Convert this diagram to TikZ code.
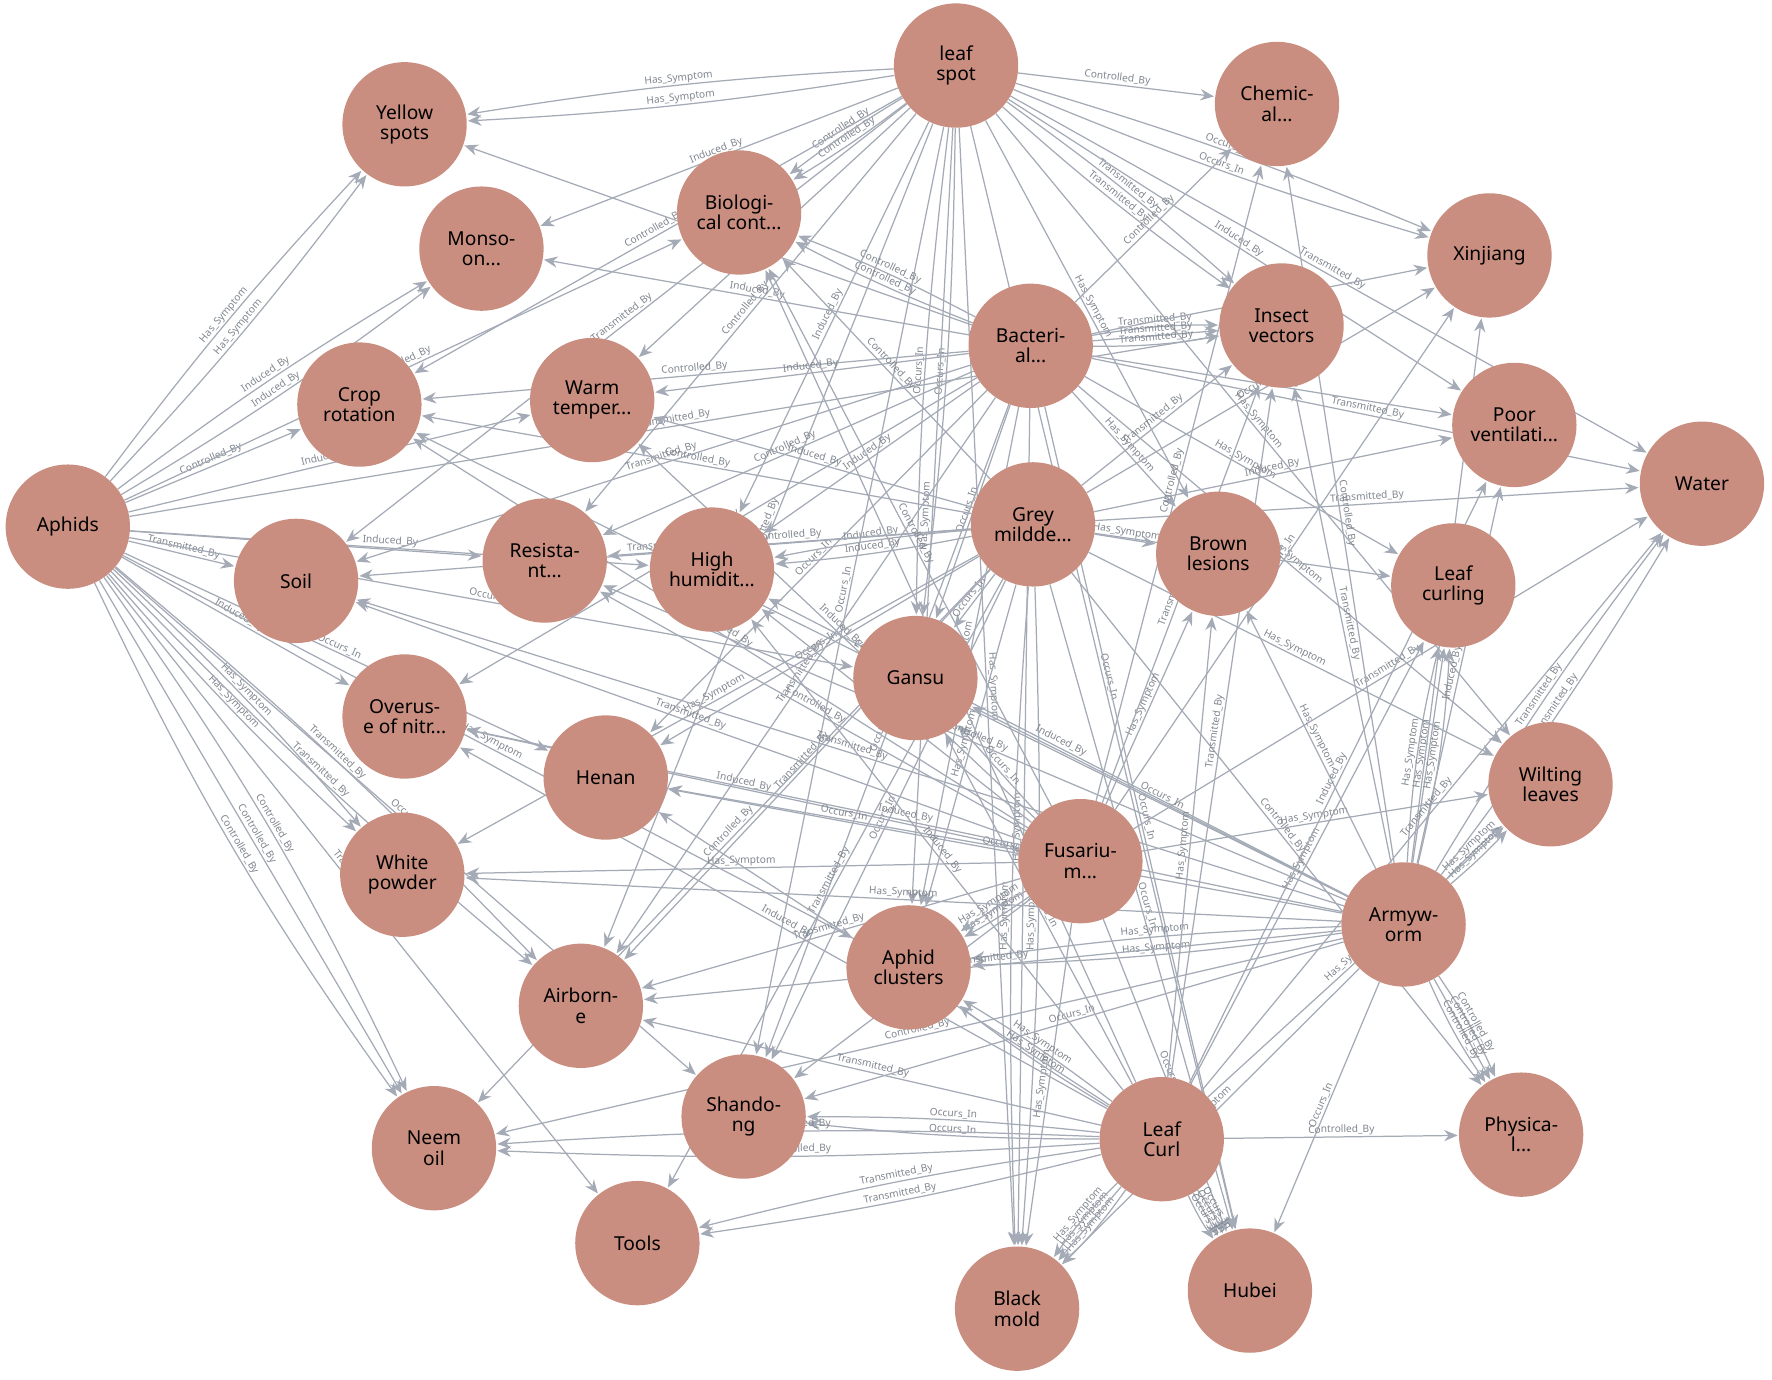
\documentclass[tikz,border=0pt]{standalone}
\usepackage{fontspec}
\setmainfont{Noto Sans}
\usetikzlibrary{arrows.meta,backgrounds}
\definecolor{nodecol}{HTML}{C98E80}
\definecolor{edgecol}{HTML}{A4ABB6}
\definecolor{lblcol}{HTML}{80868E}
\newcommand\lHS{Has\_Symptom}
\newcommand\lCB{Controlled\_By}
\newcommand\lIB{Induced\_By}
\newcommand\lTB{Transmitted\_By}
\newcommand\lOI{Occurs\_In}
\newcommand\kgE[3]{\draw[edge] (#1) to node[lbl]{#3} (#2);}
\newcommand\kgEE[3]{\draw[edge] (#1) to[bend left=3] node[lbl]{#3} (#2);\draw[edge] (#1) to[bend right=3] node[lbl]{#3} (#2);}
\newcommand\kgEEE[3]{\draw[edge] (#1) to[bend left=5] node[lbl]{#3} (#2);\draw[edge] (#1) to node[lbl]{#3} (#2);\draw[edge] (#1) to[bend right=5] node[lbl]{#3} (#2);}
\begin{document}
\begin{tikzpicture}[x=1pt,y=-1pt,
  ent/.style={circle,fill=nodecol,minimum size=110pt,inner sep=0pt,align=center,
    font=\fontsize{17}{18}\selectfont,text=black},
  edge/.style={draw=edgecol,line width=1.1pt,-{Stealth[length=12pt,width=10pt,inset=4pt]},shorten >=1pt},
  lbl/.style={sloped,above,font=\fontsize{9}{9}\selectfont,text=lblcol,inner sep=1pt}]
\useasboundingbox (0,0) rectangle (1568,1221);
% nodes
\node[ent] (leafspot) at (846,58) {leaf\\spot};
\node[ent] (yellow) at (358,110) {Yellow\\spots};
\node[ent] (chem) at (1130,92) {Chemic-\\al...};
\node[ent] (xinjiang) at (1318,226) {Xinjiang};
\node[ent] (bio) at (654,188) {Biologi-\\cal cont...};
\node[ent] (monsoon) at (426,220) {Monso-\\on...};
\node[ent] (insect) at (1134,288) {Insect\\vectors};
\node[ent] (bact) at (912,306) {Bacteri-\\al...};
\node[ent] (crop) at (318,358) {Crop\\rotation};
\node[ent] (warm) at (524,354) {Warm\\temper...};
\node[ent] (poorvent) at (1340,376) {Poor\\ventilati...};
\node[ent] (water) at (1506,428) {Water};
\node[ent] (aphids) at (60,466) {Aphids};
\node[ent] (grey) at (914,464) {Grey\\mildde...};
\node[ent] (brown) at (1078,490) {Brown\\lesions};
\node[ent] (curling) at (1286,518) {Leaf\\curling};
\node[ent] (soil) at (262,514) {Soil};
\node[ent] (resist) at (482,496) {Resista-\\nt...};
\node[ent] (humid) at (630,504) {High\\humidit...};
\node[ent] (gansu) at (810,600) {Gansu};
\node[ent] (overuse) at (358,634) {Overus-\\e of nitr...};
\node[ent] (henan) at (536,688) {Henan};
\node[ent] (wilting) at (1372,694) {Wilting\\leaves};
\node[ent] (white) at (356,774) {White\\powder};
\node[ent] (fus) at (956,762) {Fusariu-\\m...};
\node[ent] (army) at (1242,818) {Armyw-\\orm};
\node[ent] (clusters) at (804,856) {Aphid\\clusters};
\node[ent] (airborne) at (514,890) {Airborn-\\e};
\node[ent] (shandong) at (658,988) {Shando-\\ng};
\node[ent] (neem) at (384,1016) {Neem\\oil};
\node[ent] (leafcurl) at (1028,1008) {Leaf\\Curl};
\node[ent] (physical) at (1346,1004) {Physica-\\l...};
\node[ent] (tools) at (564,1100) {Tools};
\node[ent] (black) at (900,1158) {Black\\mold};
\node[ent] (hubei) at (1106,1142) {Hubei};
\begin{pgfonlayer}{background}
% leaf spot
\kgEE{leafspot}{yellow}{\lHS}
\kgE{leafspot}{chem}{\lCB}
\kgEE{leafspot}{bio}{\lCB}
\kgE{leafspot}{monsoon}{\lIB}
\kgE{leafspot}{crop}{\lCB}
\kgE{leafspot}{warm}{\lIB}
\kgEE{leafspot}{xinjiang}{\lOI}
\kgEE{leafspot}{insect}{\lTB}
\kgE{leafspot}{poorvent}{\lIB}
\kgE{leafspot}{water}{\lTB}
\kgE{leafspot}{resist}{\lCB}
\kgE{leafspot}{humid}{\lIB}
\kgEE{leafspot}{gansu}{\lOI}
\kgE{leafspot}{brown}{\lHS}
\kgE{leafspot}{clusters}{\lHS}
\kgE{leafspot}{black}{\lHS}
\kgE{leafspot}{hubei}{\lOI}
\kgE{leafspot}{airborne}{\lTB}
\kgE{leafspot}{shandong}{\lOI}
\kgE{leafspot}{wilting}{\lHS}
\kgE{leafspot}{soil}{\lTB}
% Aphids
\kgEE{aphids}{yellow}{\lHS}
\kgEE{aphids}{monsoon}{\lIB}
\kgE{aphids}{crop}{\lCB}
\kgE{aphids}{bio}{\lCB}
\kgE{aphids}{warm}{\lIB}
\kgE{aphids}{humid}{\lIB}
\kgE{aphids}{resist}{\lCB}
\kgE{aphids}{soil}{\lTB}
\kgE{aphids}{gansu}{\lOI}
\kgE{aphids}{overuse}{\lIB}
\kgE{aphids}{henan}{\lOI}
\kgEE{aphids}{white}{\lHS}
\kgEE{aphids}{airborne}{\lTB}
\kgEEE{aphids}{neem}{\lCB}
\kgE{aphids}{tools}{\lTB}
\kgE{aphids}{shandong}{\lOI}
\kgE{aphids}{clusters}{\lHS}
\kgE{aphids}{insect}{\lTB}
% Bacterial
\kgE{bact}{yellow}{\lHS}
\kgEE{bact}{bio}{\lCB}
\kgE{bact}{crop}{\lCB}
\kgE{bact}{warm}{\lIB}
\kgE{bact}{monsoon}{\lIB}
\kgEEE{bact}{insect}{\lTB}
\kgE{bact}{xinjiang}{\lOI}
\kgE{bact}{poorvent}{\lIB}
\kgE{bact}{water}{\lTB}
\kgE{bact}{chem}{\lCB}
\kgE{bact}{gansu}{\lOI}
\kgE{bact}{brown}{\lHS}
\kgE{bact}{curling}{\lHS}
\kgE{bact}{wilting}{\lHS}
\kgE{bact}{clusters}{\lHS}
\kgE{bact}{black}{\lHS}
\kgE{bact}{soil}{\lTB}
\kgE{bact}{airborne}{\lTB}
\kgE{bact}{henan}{\lOI}
\kgE{bact}{shandong}{\lOI}
\kgE{bact}{hubei}{\lOI}
\kgE{bact}{resist}{\lCB}
\kgE{bact}{humid}{\lIB}
\kgE{bact}{overuse}{\lIB}
% Grey mildew
\kgE{grey}{brown}{\lHS}
\kgE{grey}{insect}{\lTB}
\kgE{grey}{water}{\lTB}
\kgE{grey}{poorvent}{\lIB}
\kgE{grey}{xinjiang}{\lOI}
\kgEE{grey}{humid}{\lIB}
\kgE{grey}{warm}{\lIB}
\kgE{grey}{resist}{\lCB}
\kgE{grey}{crop}{\lCB}
\kgE{grey}{bio}{\lCB}
\kgE{grey}{soil}{\lTB}
\kgE{grey}{gansu}{\lOI}
\kgE{grey}{henan}{\lOI}
\kgE{grey}{white}{\lHS}
\kgE{grey}{airborne}{\lTB}
\kgEE{grey}{black}{\lHS}
\kgE{grey}{hubei}{\lOI}
\kgE{grey}{shandong}{\lOI}
\kgE{grey}{neem}{\lCB}
\kgE{grey}{curling}{\lHS}
\kgE{grey}{wilting}{\lHS}
\kgE{grey}{physical}{\lCB}
\kgE{grey}{clusters}{\lHS}
\kgE{grey}{tools}{\lTB}
% Fusarium
\kgE{fus}{overuse}{\lIB}
\kgE{fus}{henan}{\lOI}
\kgE{fus}{soil}{\lTB}
\kgE{fus}{resist}{\lCB}
\kgE{fus}{humid}{\lIB}
\kgE{fus}{warm}{\lIB}
\kgE{fus}{crop}{\lCB}
\kgE{fus}{bio}{\lCB}
\kgEE{fus}{clusters}{\lHS}
\kgE{fus}{black}{\lHS}
\kgE{fus}{hubei}{\lOI}
\kgE{fus}{shandong}{\lOI}
\kgE{fus}{gansu}{\lOI}
\kgE{fus}{brown}{\lHS}
\kgE{fus}{insect}{\lTB}
\kgE{fus}{chem}{\lCB}
\kgE{fus}{xinjiang}{\lOI}
\kgE{fus}{water}{\lTB}
\kgE{fus}{wilting}{\lHS}
\kgE{fus}{airborne}{\lTB}
\kgE{fus}{white}{\lHS}
% Armyworm
\kgEEE{army}{physical}{\lCB}
\kgE{army}{hubei}{\lOI}
\kgEE{army}{wilting}{\lHS}
\kgEEE{army}{curling}{\lHS}
\kgE{army}{brown}{\lHS}
\kgEE{army}{water}{\lTB}
\kgE{army}{poorvent}{\lIB}
\kgE{army}{xinjiang}{\lOI}
\kgE{army}{insect}{\lTB}
\kgE{army}{chem}{\lCB}
\kgE{army}{gansu}{\lOI}
\kgE{army}{henan}{\lOI}
\kgE{army}{soil}{\lTB}
\kgE{army}{resist}{\lCB}
\kgE{army}{overuse}{\lIB}
\kgE{army}{white}{\lHS}
\kgEE{army}{clusters}{\lHS}
\kgE{army}{airborne}{\lTB}
\kgE{army}{shandong}{\lOI}
\kgE{army}{neem}{\lCB}
\kgE{army}{black}{\lHS}
\kgE{army}{humid}{\lIB}
\kgE{army}{crop}{\lCB}
% Leaf Curl
\kgE{leafcurl}{physical}{\lCB}
\kgEEE{leafcurl}{hubei}{\lOI}
\kgEEE{leafcurl}{black}{\lHS}
\kgEE{leafcurl}{tools}{\lTB}
\kgEE{leafcurl}{shandong}{\lOI}
\kgEE{leafcurl}{neem}{\lCB}
\kgEE{leafcurl}{clusters}{\lHS}
\kgE{leafcurl}{airborne}{\lTB}
\kgE{leafcurl}{gansu}{\lOI}
\kgE{leafcurl}{henan}{\lOI}
\kgE{leafcurl}{overuse}{\lIB}
\kgE{leafcurl}{curling}{\lHS}
\kgE{leafcurl}{wilting}{\lHS}
\kgE{leafcurl}{brown}{\lHS}
\kgE{leafcurl}{insect}{\lTB}
\kgE{leafcurl}{water}{\lTB}
\kgE{leafcurl}{poorvent}{\lIB}
\kgE{leafcurl}{bio}{\lCB}
\kgE{leafcurl}{humid}{\lIB}
\end{pgfonlayer}
\end{tikzpicture}
\end{document}
